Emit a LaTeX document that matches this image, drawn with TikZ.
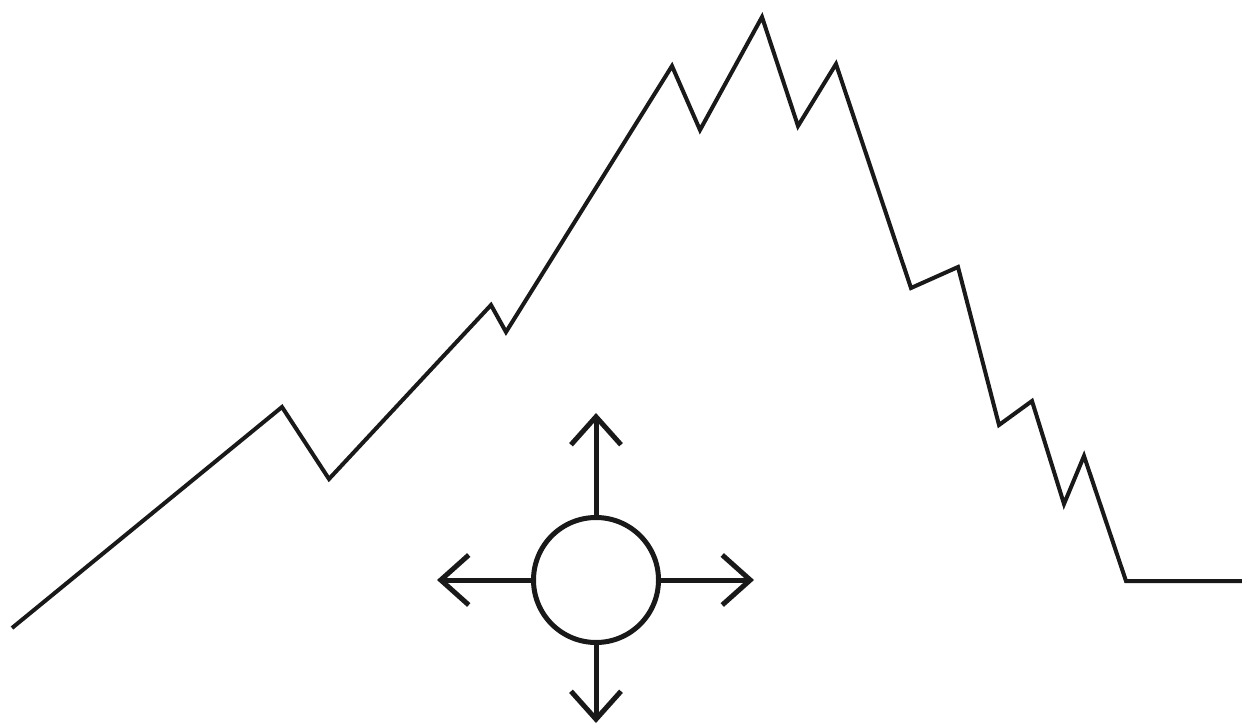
\documentclass[tikz,border=0pt]{standalone}
\usetikzlibrary{arrows.meta}
\begin{document}
\begin{tikzpicture}[x=1pt,y=-1pt,
  ridge/.style={line width=4pt,line join=miter,color=black!90},
  hub/.style={circle,draw=black!90,line width=5pt,minimum size=125pt,inner sep=0pt},
  spoke/.style={line width=5pt,color=black!90,-{Straight Barb[length=28pt,width=50pt,line width=5pt]}}]
\useasboundingbox (0,0) rectangle (1242,725);
\draw[ridge] (12,628) -- (282,407) -- (329,479) -- (491,305) -- (506,332) -- (672,66)
  -- (700,130) -- (762,17) -- (798,126) -- (836,64) -- (911,288) -- (958,267)
  -- (999,425) -- (1032,401) -- (1064,504) -- (1084,456) -- (1126,581) -- (1242,581);
\node[hub] (c) at (596,580) {};
\coordinate (tu) at (596,413);
\coordinate (td) at (596,723);
\coordinate (tl) at (437,580);
\coordinate (tr) at (754,580);
\draw[spoke] (c.north) -- (tu);
\draw[spoke] (c.south) -- (td);
\draw[spoke] (c.west) -- (tl);
\draw[spoke] (c.east) -- (tr);
\end{tikzpicture}
\end{document}
